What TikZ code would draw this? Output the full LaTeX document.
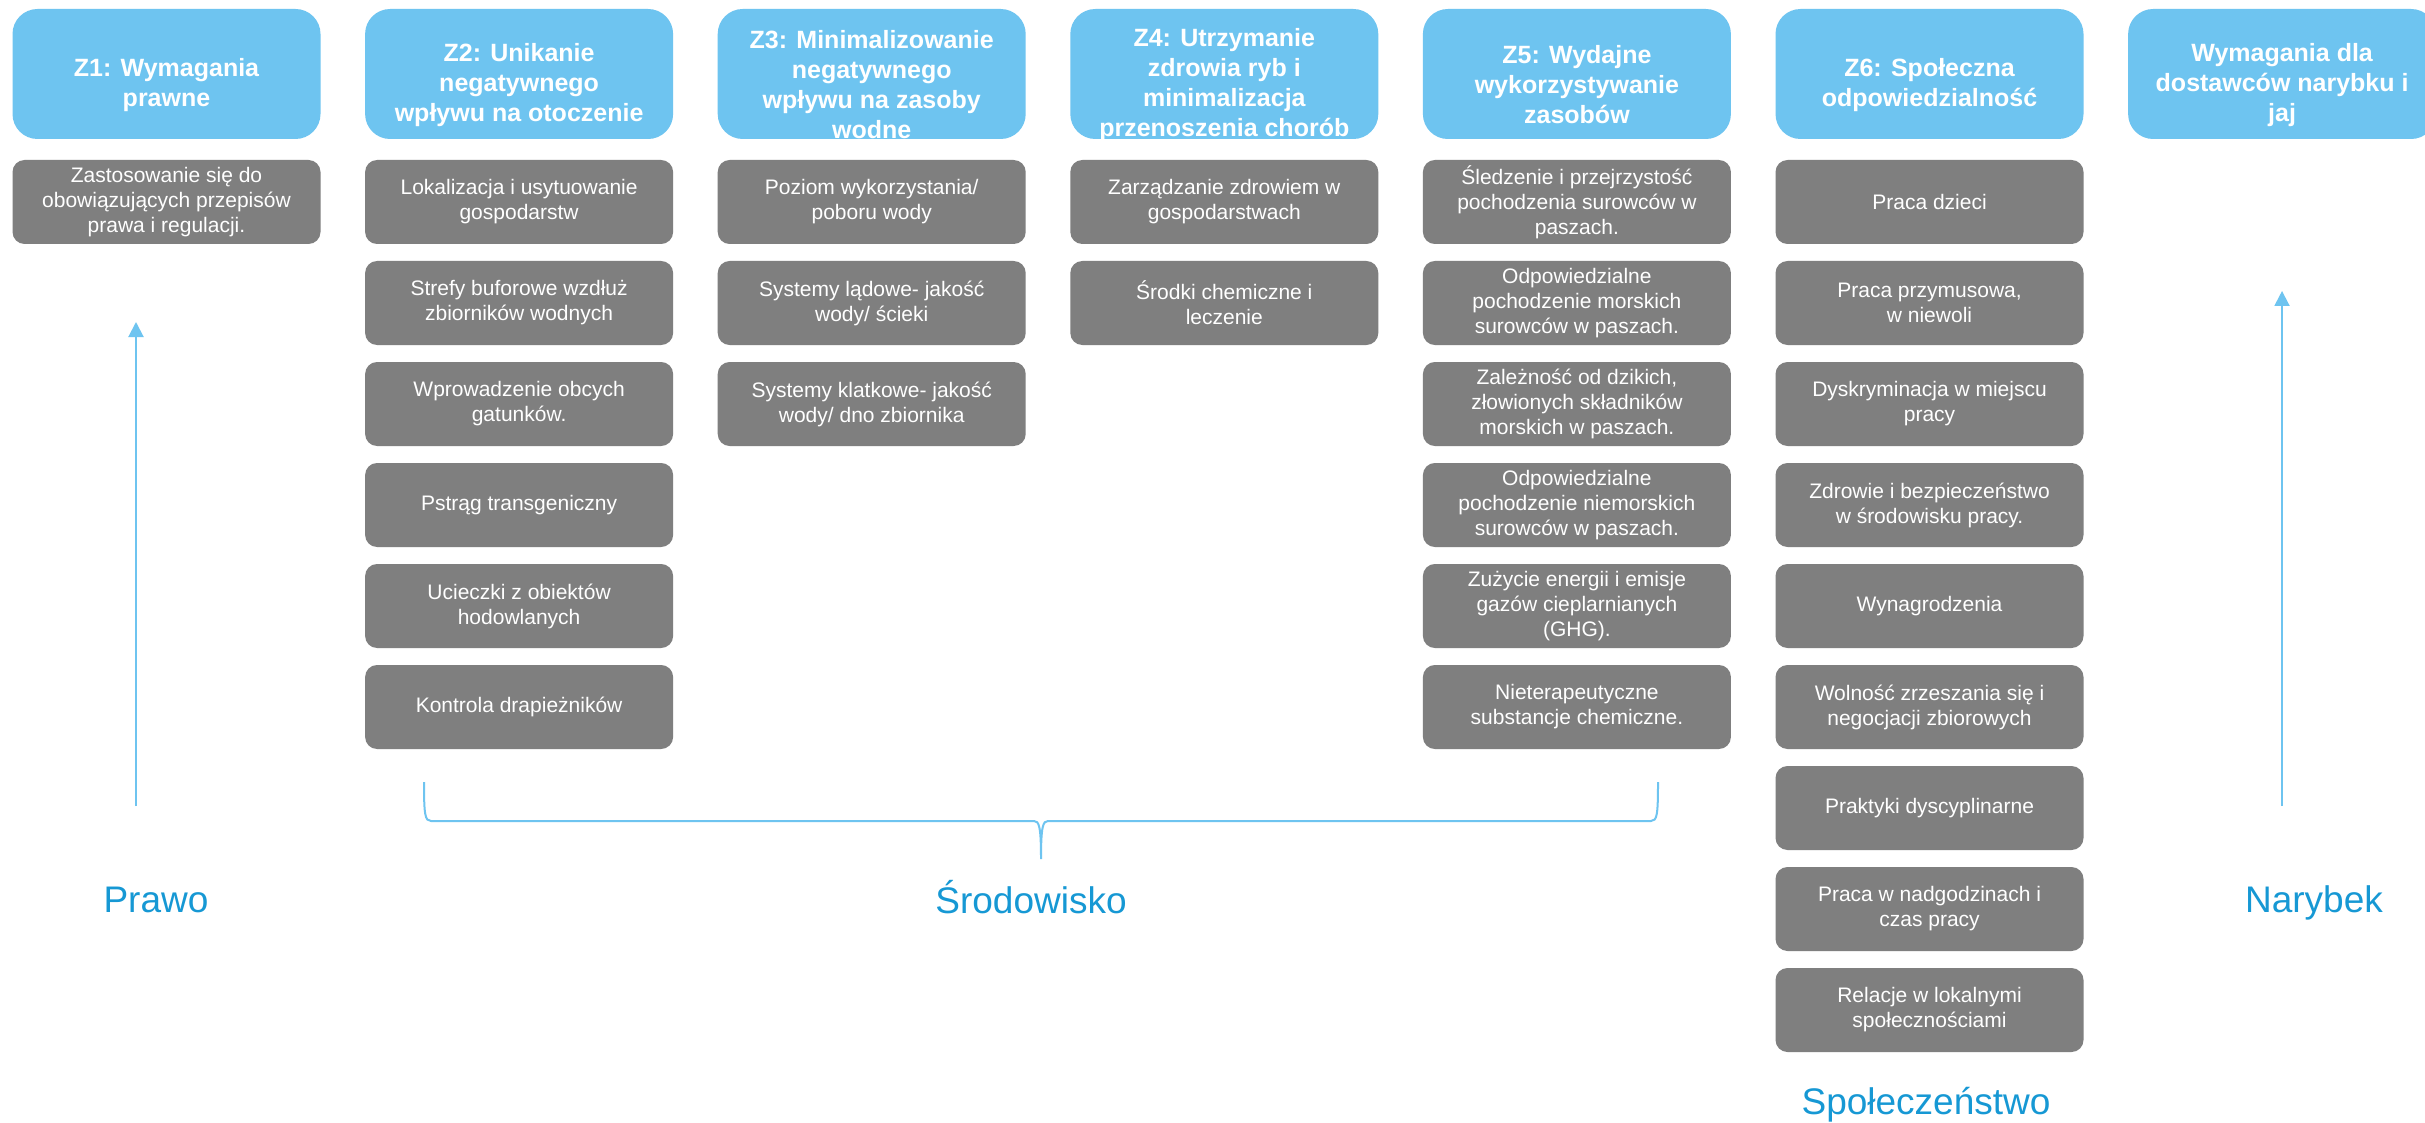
\documentclass[tikz,border=0pt]{standalone}
\usepackage{fontspec}
\setmainfont{Liberation Sans}
\usetikzlibrary{arrows.meta}
\definecolor{hdrblue}{RGB}{110,196,240}
\definecolor{boxgray}{RGB}{127,127,127}
\definecolor{lblblue}{RGB}{22,152,212}
\definecolor{arrblue}{RGB}{110,196,240}
\begin{document}
\begin{tikzpicture}[x=0.5pt,y=-0.5pt,
 hdrbox/.style={rectangle, rounded corners=12.5pt, fill=hdrblue, minimum width=154pt, minimum height=65pt, inner sep=0pt},
 hdrtext/.style={text=white, font=\fontsize{12.5}{15}\selectfont\bfseries, align=center, inner sep=0pt},
 itembox/.style={rectangle, rounded corners=6pt, fill=boxgray, minimum width=154pt, minimum height=42pt, inner sep=0pt, text=white, font=\fontsize{10.5}{12.5}\selectfont, align=center},
 pillar/.style={text=lblblue, font=\fontsize{18.5}{22}\selectfont, anchor=base, inner sep=0pt},
 uparrow/.style={draw=arrblue, line width=1pt, -{Triangle[width=7.5pt,length=7.5pt]}},
 bracestyle/.style={draw=arrblue, line width=1pt}]
\fill[white] (0,0) rectangle (2425,1123);
\useasboundingbox (0,0) rectangle (2425,1123);

% ---- headers
\node[hdrbox] (h1) at (166.5,74) {};
\node[hdrtext] (h1t) at (166.5,85) {Z1: Wymagania\\prawne};
\node[hdrbox] (h2) at (519.1,74) {};
\node[hdrtext] (h2t) at (519.1,85) {Z2: Unikanie\\negatywnego\\wpływu na otoczenie};
\node[hdrbox] (h3) at (871.7,74) {};
\node[hdrtext] (h3t) at (871.7,85) {Z3: Minimalizowanie\\negatywnego\\wpływu na zasoby\\wodne};
\node[hdrbox] (h4) at (1224.3,74) {};
\node[hdrtext] (h4t) at (1224.3,85) {Z4: Utrzymanie\\zdrowia ryb i\\minimalizacja\\przenoszenia chorób};
\node[hdrbox] (h5) at (1576.9,74) {};
\node[hdrtext] (h5t) at (1576.9,85) {Z5: Wydajne\\wykorzystywanie\\zasobów};
\node[hdrbox] (h6) at (1929.5,74) {};
\node[hdrtext] (h6t) at (1929.5,85) {Z6: Społeczna\\odpowiedzialność};
\node[hdrbox] (h7) at (2282.1,74) {};
\node[hdrtext] (h7t) at (2282.1,85) {Wymagania dla\\dostawców narybku i\\jaj};

% ---- Z1
\node[itembox] (z1a) at (166.5,202) {Zastosowanie się do\\obowiązujących przepisów\\prawa i regulacji.};

% ---- Z2
\node[itembox] (z2a) at (519.1,202) {Lokalizacja i usytuowanie\\gospodarstw};
\node[itembox] (z2b) at (519.1,303) {Strefy buforowe wzdłuż\\zbiorników wodnych};
\node[itembox] (z2c) at (519.1,404) {Wprowadzenie obcych\\gatunków.};
\node[itembox] (z2d) at (519.1,505) {Pstrąg transgeniczny};
\node[itembox] (z2e) at (519.1,606) {Ucieczki z obiektów\\hodowlanych};
\node[itembox] (z2f) at (519.1,707) {Kontrola drapieżników};

% ---- Z3
\node[itembox] (z3a) at (871.7,202) {Poziom wykorzystania/\\poboru wody};
\node[itembox] (z3b) at (871.7,303) {Systemy lądowe- jakość\\wody/ ścieki};
\node[itembox] (z3c) at (871.7,404) {Systemy klatkowe- jakość\\wody/ dno zbiornika};

% ---- Z4
\node[itembox] (z4a) at (1224.3,202) {Zarządzanie zdrowiem w\\gospodarstwach};
\node[itembox] (z4b) at (1224.3,303) {Środki chemiczne i\\leczenie};

% ---- Z5
\node[itembox] (z5a) at (1576.9,202) {Śledzenie i przejrzystość\\pochodzenia surowców w\\paszach.};
\node[itembox] (z5b) at (1576.9,303) {Odpowiedzialne\\pochodzenie morskich\\surowców w paszach.};
\node[itembox] (z5c) at (1576.9,404) {Zależność od dzikich,\\złowionych składników\\morskich w paszach.};
\node[itembox] (z5d) at (1576.9,505) {Odpowiedzialne\\pochodzenie niemorskich\\surowców w paszach.};
\node[itembox] (z5e) at (1576.9,606) {Zużycie energii i emisje\\gazów cieplarnianych\\(GHG).};
\node[itembox] (z5f) at (1576.9,707) {Nieterapeutyczne\\substancje chemiczne.};

% ---- Z6
\node[itembox] (z6a) at (1929.5,202) {Praca dzieci};
\node[itembox] (z6b) at (1929.5,303) {Praca przymusowa,\\w niewoli};
\node[itembox] (z6c) at (1929.5,404) {Dyskryminacja w miejscu\\pracy};
\node[itembox] (z6d) at (1929.5,505) {Zdrowie i bezpieczeństwo\\w środowisku pracy.};
\node[itembox] (z6e) at (1929.5,606) {Wynagrodzenia};
\node[itembox] (z6f) at (1929.5,707) {Wolność zrzeszania się i\\negocjacji zbiorowych};
\node[itembox] (z6g) at (1929.5,808) {Praktyki dyscyplinarne};
\node[itembox] (z6h) at (1929.5,909) {Praca w nadgodzinach i\\czas pracy};
\node[itembox] (z6i) at (1929.5,1010) {Relacje w lokalnymi\\społecznościami};

% ---- arrows
\coordinate (a1s) at (136,806);
\coordinate (a1e) at (136,322);
\draw[uparrow] (a1s) -- (a1e);
\coordinate (a2s) at (2282,806);
\coordinate (a2e) at (2282,291);
\draw[uparrow] (a2s) -- (a2e);

% ---- brace
\coordinate (bl) at (424,782);
\coordinate (bt) at (1041,859);
\coordinate (br) at (1658,782);
\draw[bracestyle] (bl) .. controls (424,815) and (425,821) .. (431,821)
  -- (1034,821) .. controls (1039,821) and (1041,826) .. (bt)
  .. controls (1041,826) and (1043,821) .. (1048,821)
  -- (1651,821) .. controls (1657,821) and (1658,815) .. (br);

% ---- pillar labels
\node[pillar] (lp) at (156,912) {Prawo};
\node[pillar] (ls) at (1031,913) {Środowisko};
\node[pillar] (ln) at (2314,912) {Narybek};
\node[pillar] (lsp) at (1926,1114) {Społeczeństwo};
\end{tikzpicture}
\end{document}
